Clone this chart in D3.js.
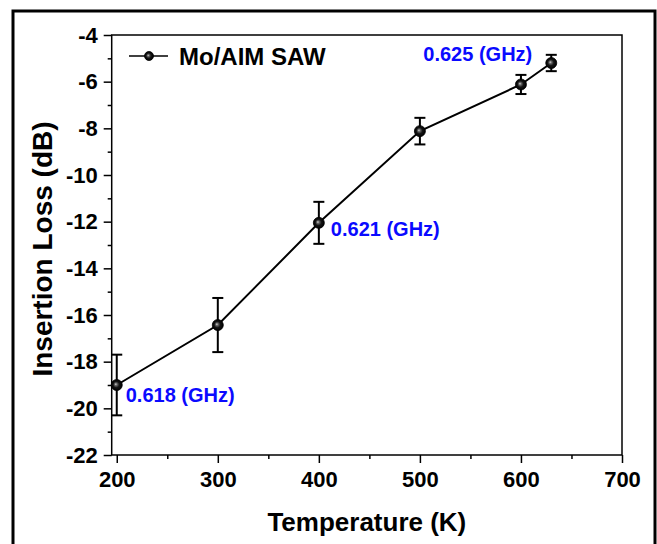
<!DOCTYPE html>
<html>
<head>
<meta charset="utf-8">
<script src="https://cdn.jsdelivr.net/npm/d3@7"></script>
<style>
  body { margin: 0; background: #fff; }
  text { font-family: "Liberation Sans", Arial, sans-serif; font-weight: bold; }
</style>
</head>
<body>
<div id="chart"></div>
<script>
// data
var temps = [200, 300, 400, 500, 600, 630];
var insertionLoss = [-19.0, -16.43, -12.05, -8.12, -6.12, -5.2];
var lossErr = [1.3, 1.16, 0.9, 0.57, 0.41, 0.35];

var xTicks = [200, 300, 400, 500, 600, 700];
var xMinor = [250, 350, 450, 550, 650];
var yTicks = [-22, -20, -18, -16, -14, -12, -10, -8, -6, -4];
var yMinor = [-21, -19, -17, -15, -13, -11, -9, -7, -5];

var seriesName = "Mo/AIM SAW";
var annotTemps = [200, 400, 630];
var annotTexts = ["0.618 (GHz)", "0.621 (GHz)", "0.625 (GHz)"];

// page + plot geometry
var W = 657, H = 544;
var plot = {left: 111.7, right: 622, top: 35, bottom: 455};

var svg = d3.select("#chart").append("svg")
    .attr("width", W)
    .attr("height", H);

// sphere look for the markers
var grad = svg.append("defs").append("radialGradient")
    .attr("id", "ball")
    .attr("cx", "50%").attr("cy", "50%").attr("r", "50%")
    .attr("fx", "40%").attr("fy", "42%");
grad.append("stop").attr("offset", "0%").attr("stop-color", "#d8d8d8");
grad.append("stop").attr("offset", "22%").attr("stop-color", "#6a6a6a");
grad.append("stop").attr("offset", "55%").attr("stop-color", "#141414");
grad.append("stop").attr("offset", "100%").attr("stop-color", "#000");

// outer frame (runs off the bottom of the picture)
svg.append("rect")
    .attr("x", 13).attr("y", 11)
    .attr("width", 642).attr("height", 600)
    .attr("fill", "none")
    .attr("stroke", "#000")
    .attr("stroke-width", 3);

var x = d3.scaleLinear().domain([195, 700]).range([plot.left, plot.right]);
var y = d3.scaleLinear().domain([-22, -4]).range([plot.bottom, plot.top]);

var plainFmt = function(d) { return String(d); };  // hyphen, not unicode minus

// x axis, major + minor
svg.append("g")
    .attr("transform", "translate(0," + plot.bottom + ")")
    .call(d3.axisBottom(x).tickValues(xTicks).tickFormat(plainFmt)
        .tickSize(8).tickSizeOuter(0).tickPadding(8));
svg.append("g")
    .attr("transform", "translate(0," + plot.bottom + ")")
    .call(d3.axisBottom(x).tickValues(xMinor).tickSize(4).tickSizeOuter(0).tickFormat(""));

// y axis, major + minor
svg.append("g")
    .attr("transform", "translate(" + plot.left + ",0)")
    .call(d3.axisLeft(y).tickValues(yTicks).tickFormat(plainFmt)
        .tickSize(8).tickSizeOuter(0).tickPadding(6));
svg.append("g")
    .attr("transform", "translate(" + plot.left + ",0)")
    .call(d3.axisLeft(y).tickValues(yMinor).tickSize(4).tickSizeOuter(0).tickFormat(""));

svg.selectAll(".domain").remove();
svg.selectAll(".tick line").attr("stroke", "#000").attr("stroke-width", 1.5);
svg.selectAll(".tick text")
    .attr("fill", "#000")
    .style("font-size", "22px");

// plot box
svg.append("rect")
    .attr("x", plot.left).attr("y", plot.top)
    .attr("width", plot.right - plot.left)
    .attr("height", plot.bottom - plot.top)
    .attr("fill", "none")
    .attr("stroke", "#000")
    .attr("stroke-width", 1.5);

// axis titles
svg.append("text")
    .attr("x", (plot.left + plot.right) / 2)
    .attr("y", 531)
    .attr("text-anchor", "middle")
    .style("font-size", "26px")
    .text("Temperature (K)");

svg.append("text")
    .attr("transform", "translate(52," + ((plot.top + plot.bottom) / 2 + 4) + ") rotate(-90)")
    .attr("text-anchor", "middle")
    .style("font-size", "28px")
    .text("Insertion Loss (dB)");

var pts = temps.map(function(t, i) {
  return {t: t, v: insertionLoss[i], e: lossErr[i]};
});

// connecting line
svg.append("path")
    .datum(pts)
    .attr("fill", "none")
    .attr("stroke", "#000")
    .attr("stroke-width", 2)
    .attr("d", d3.line()
        .x(function(d) { return x(d.t); })
        .y(function(d) { return y(d.v); }));

// error bars
var eb = svg.append("g").selectAll("g")
    .data(pts)
    .enter().append("g")
    .attr("stroke", "#000")
    .attr("stroke-width", 2);
eb.append("line")
    .attr("x1", function(d) { return x(d.t); })
    .attr("x2", function(d) { return x(d.t); })
    .attr("y1", function(d) { return y(d.v + d.e); })
    .attr("y2", function(d) { return y(d.v - d.e); });
eb.append("line")
    .attr("x1", function(d) { return x(d.t) - 5.5; })
    .attr("x2", function(d) { return x(d.t) + 5.5; })
    .attr("y1", function(d) { return y(d.v + d.e); })
    .attr("y2", function(d) { return y(d.v + d.e); });
eb.append("line")
    .attr("x1", function(d) { return x(d.t) - 5.5; })
    .attr("x2", function(d) { return x(d.t) + 5.5; })
    .attr("y1", function(d) { return y(d.v - d.e); })
    .attr("y2", function(d) { return y(d.v - d.e); });

// markers
svg.append("g").selectAll("circle")
    .data(pts)
    .enter().append("circle")
    .attr("cx", function(d) { return x(d.t); })
    .attr("cy", function(d) { return y(d.v); })
    .attr("r", 5.5)
    .attr("fill", "url(#ball)")
    .attr("stroke", "#000")
    .attr("stroke-width", 0.8);

// frequency notes
var annotOffset = [[9, 17, "start"], [12, 13, "start"], [-19, -2, "end"]];
annotTexts.forEach(function(txt, i) {
  var k = temps.indexOf(annotTemps[i]);
  svg.append("text")
      .attr("x", x(annotTemps[i]) + annotOffset[i][0])
      .attr("y", y(insertionLoss[k]) + annotOffset[i][1])
      .attr("text-anchor", annotOffset[i][2])
      .attr("fill", "#0a0aff")
      .style("font-size", "20px")
      .text(txt);
});

// legend
var lg = svg.append("g").attr("transform", "translate(129,56)");
lg.append("line")
    .attr("x1", 0).attr("x2", 39)
    .attr("stroke", "#000").attr("stroke-width", 1.5);
lg.append("circle")
    .attr("cx", 20).attr("r", 4.5)
    .attr("fill", "url(#ball)")
    .attr("stroke", "#000").attr("stroke-width", 0.8);
lg.append("text")
    .attr("x", 50).attr("y", 9)
    .style("font-size", "24px")
    .text(seriesName);
</script>
</body>
</html>
